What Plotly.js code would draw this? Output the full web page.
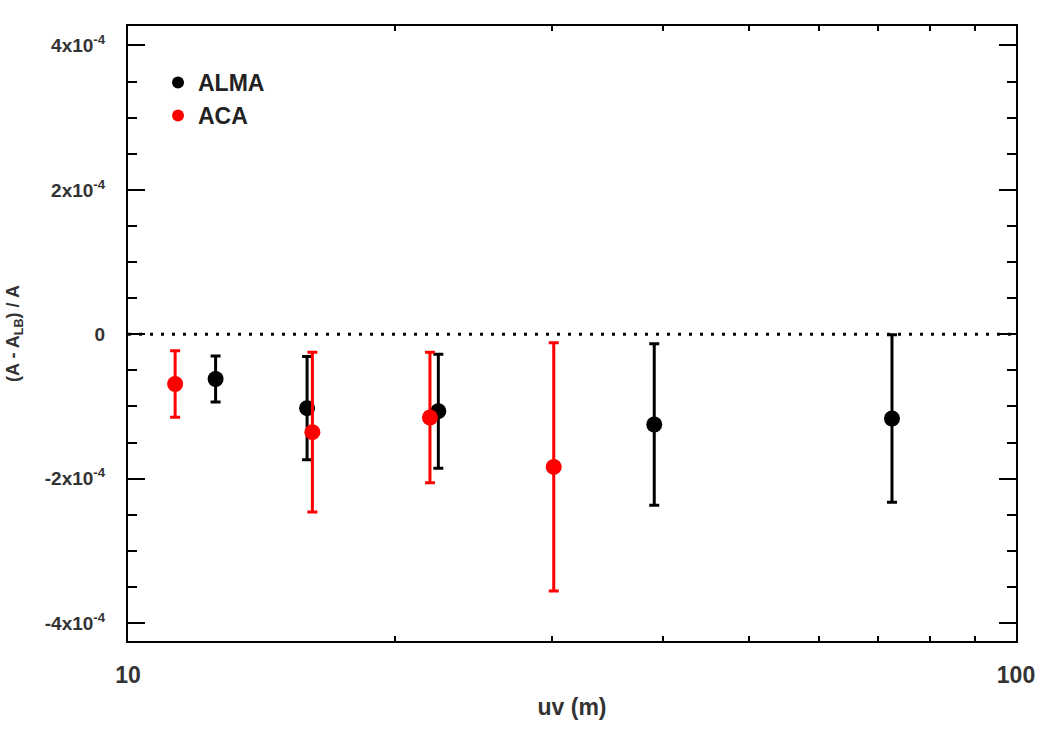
<!DOCTYPE html>
<html>
<head>
<meta charset="utf-8">
<script src="https://cdn.plot.ly/plotly-3.0.1.min.js"></script>
<style>html,body{margin:0;padding:0;background:#fff;}#chart{width:1050px;height:750px;}</style>
</head>
<body>
<div id="chart"></div>
<script>
// ALMA series
const almaUV = [12.55, 15.91, 22.36, 39.14, 72.5];
const almaVal = [-6.2e-5, -1.025e-4, -1.066e-4, -1.251e-4, -1.168e-4];
const almaErr = [3.2e-5, 7.15e-5, 7.9e-5, 1.12e-4, 1.16e-4];
// ACA series
const acaUV = [11.30, 16.13, 21.88, 30.16];
const acaVal = [-6.9e-5, -1.357e-4, -1.154e-4, -1.838e-4];
const acaErr = [4.6e-5, 1.107e-4, 9.03e-5, 1.72e-4];
// tick labels
const yTickVals = [-4e-4, -2e-4, 0, 2e-4, 4e-4];
const yTickText = ['-4x10<sup>-4</sup>', '-2x10<sup>-4</sup>', '0', '2x10<sup>-4</sup>', '4x10<sup>-4</sup>'];
const xTickVals = [10, 20, 30, 40, 50, 60, 70, 80, 90, 100];
const xTickText = ['10', '', '', '', '', '', '', '', '', '100'];

const FAM = 'Liberation Sans, Arial, sans-serif';

const traces = [
  {
    x: almaUV, y: almaVal, type: 'scatter', mode: 'markers', name: '<b>ALMA</b>',
    legendgroup: 'a',
    marker: {color: '#000', size: 16},
    error_y: {type: 'data', array: almaErr, visible: true, color: '#000', thickness: 3, width: 5}
  },
  {
    x: acaUV, y: acaVal, type: 'scatter', mode: 'markers', name: '<b>ACA</b>',
    legendgroup: 'b',
    marker: {color: '#ff0000', size: 16},
    error_y: {type: 'data', array: acaErr, visible: true, color: '#ff0000', thickness: 3, width: 5}
  }
];

const layout = {
  width: 1050, height: 750,
  margin: {l: 128, r: 34, t: 26, b: 109},
  paper_bgcolor: '#fff', plot_bgcolor: '#fff',
  font: {family: FAM, size: 18, color: '#333'},
  showlegend: true,
  legend: {x: 0.0338, y: 0.943, xanchor: 'left', yanchor: 'top', bgcolor: 'rgba(0,0,0,0)',
           font: {family: FAM, size: 23, color: '#222'},
           itemsizing: 'constant', tracegroupgap: 0, traceorder: 'grouped'},
  xaxis: {
    type: 'log', range: [1, 2],
    tickmode: 'array', tickvals: xTickVals, ticktext: xTickText,
    ticks: 'inside', ticklen: 5, tickwidth: 2, tickcolor: '#000',
    showline: true, linewidth: 2, linecolor: '#000', mirror: 'ticks',
    showgrid: false, zeroline: false,
    tickfont: {family: FAM, size: 23, color: '#333', weight: 'bold'},
    ticklabelstandoff: 12,
    title: {text: '<b>uv (m)</b>', font: {family: FAM, size: 23, color: '#333'}, standoff: 12}
  },
  yaxis: {
    range: [-4.25e-4, 4.27e-4],
    tickmode: 'array', tickvals: yTickVals, ticktext: yTickText,
    ticks: 'inside', ticklen: 17, tickwidth: 2, tickcolor: '#000',
    minor: {tickmode: 'linear', tick0: 0, dtick: 5e-5, ticks: 'inside', ticklen: 9, tickwidth: 2, tickcolor: '#000'},
    showline: true, linewidth: 2, linecolor: '#000', mirror: 'ticks',
    showgrid: false, zeroline: false,
    tickfont: {family: FAM, size: 19, color: '#333', weight: 'bold'},
    ticklabelstandoff: 17,
    title: {text: '<b>(A - A<sub>LB</sub>) / A</b>', font: {family: FAM, size: 18, color: '#333'}, standoff: 20}
  },
  shapes: [
    {type: 'line', xref: 'paper', yref: 'y', x0: 0, x1: 1, y0: 0, y1: 0,
     line: {color: '#000', width: 3, dash: '3px,8px'}, layer: 'below'}
  ]
};

Plotly.newPlot('chart', traces, layout, {displayModeBar: false});
</script>
</body>
</html>
